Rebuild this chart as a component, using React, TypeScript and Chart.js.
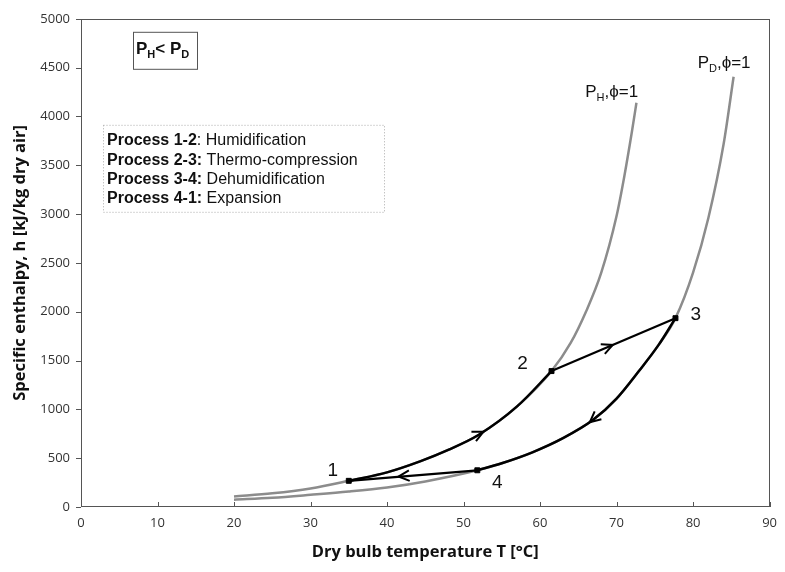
import React, { useEffect, useRef } from 'react';
import { Chart, registerables } from 'chart.js';

Chart.register(...registerables);

// Saturation curve at humidifier pressure P_H (phi = 1)
const phT = [20, 25, 30, 35, 40, 44.4, 48, 52, 57, 61.5, 64, 66, 68, 70, 71, 72, 72.6];
const phH = [108, 140, 190, 268, 355, 470, 585, 740, 1030, 1392, 1680, 2000, 2400, 2980, 3380, 3840, 4140];

// Saturation curve at dehumidifier pressure P_D (phi = 1)
const pdT = [20, 25, 30, 35, 40, 45, 51.8, 55, 59, 63, 66.9, 70, 72.9, 75.5, 77.7, 80, 82, 84, 85.3];
const pdH = [75, 95, 125, 158, 200, 262, 376, 448, 560, 705, 890, 1110, 1390, 1660, 1934, 2400, 2960, 3720, 4407];

// Process 1-2 (humidification, along P_H saturation)
const p12T = [35, 40, 44.4, 48, 52, 57, 61.5];
const p12H = [268, 355, 470, 585, 740, 1030, 1392];

// Process 3-4 (dehumidification, along P_D saturation)
const p34T = [51.8, 55, 59, 63, 66.9, 70, 72.9, 75.5, 77.7];
const p34H = [376, 448, 560, 705, 890, 1110, 1390, 1660, 1934];

// State points 1..4
const stateNames = ['1', '2', '3', '4'];
const stateT = [35, 61.5, 77.7, 51.8];
const stateH = [268, 1392, 1934, 376];
const stateLabelT = [32.9, 57.7, 80.35, 54.4];
const stateLabelH = [371, 1468, 1972, 244];

// Arrow tips and their trailing points
const arrowTipT = [52.6, 69.5, 66.5, 41.5];
const arrowTipH = [770, 1660, 868, 312];
const arrowBackT = [50.5, 61.5, 68.5, 51.8];
const arrowBackH = [690, 1392, 1000, 376];

const xTickValues = [0, 10, 20, 30, 40, 50, 60, 70, 80, 90];
const yTickValues = [0, 500, 1000, 1500, 2000, 2500, 3000, 3500, 4000, 4500, 5000];

const legendBold = ['Process 1-2', 'Process 2-3:', 'Process 3-4:', 'Process 4-1:'];
const legendText = [': Humidification', ' Thermo-compression', ' Dehumidification', ' Expansion'];

const GRAY = '#8c8c8c';
const SANS = '"Liberation Sans", Arial, sans-serif';

const pts = (t: number[], h: number[]) => t.map((v, i) => ({ x: v, y: h[i] }));

const annotPlugin = {
  id: 'annot',
  afterDatasetsDraw(chart: any) {
    const { ctx, chartArea: ca, scales } = chart;
    const xs = scales.x;
    const ys = scales.y;
    const px = (v: number) => xs.getPixelForValue(v);
    const py = (v: number) => ys.getPixelForValue(v);
    ctx.save();

    // frame
    ctx.strokeStyle = '#555';
    ctx.lineWidth = 1;
    ctx.strokeRect(Math.round(ca.left) + 0.5, Math.round(ca.top) + 0.5, Math.round(ca.right - ca.left) - 1, Math.round(ca.bottom - ca.top) - 1);
    // tick marks
    ctx.beginPath();
    xTickValues.forEach((v) => {
      const X = Math.round(px(v)) + 0.5;
      ctx.moveTo(X, ca.bottom);
      ctx.lineTo(X, ca.bottom - 5);
    });
    yTickValues.forEach((v) => {
      const Y = Math.round(py(v)) + 0.5;
      ctx.moveTo(ca.left - 5, Y);
      ctx.lineTo(ca.left, Y);
    });
    ctx.stroke();

    // arrows
    ctx.strokeStyle = '#000';
    ctx.lineWidth = 2;
    arrowTipT.forEach((t, i) => {
      const tx = px(t), ty = py(arrowTipH[i]);
      const bx = px(arrowBackT[i]), by = py(arrowBackH[i]);
      const ang = Math.atan2(ty - by, tx - bx);
      const L = 12, spread = 0.45;
      ctx.beginPath();
      ctx.moveTo(tx - L * Math.cos(ang - spread), ty - L * Math.sin(ang - spread));
      ctx.lineTo(tx, ty);
      ctx.lineTo(tx - L * Math.cos(ang + spread), ty - L * Math.sin(ang + spread));
      ctx.stroke();
    });

    // state labels
    ctx.fillStyle = '#111';
    ctx.font = `19px ${SANS}`;
    ctx.textAlign = 'center';
    ctx.textBaseline = 'middle';
    stateNames.forEach((n, i) => ctx.fillText(n, px(stateLabelT[i]), py(stateLabelH[i])));

    // curve labels
    ctx.textAlign = 'left';
    ctx.textBaseline = 'alphabetic';
    const subLabel = (main: string, sub: string, rest: string, x: number, y: number) => {
      ctx.font = `17px ${SANS}`;
      ctx.fillText(main, x, y);
      let cx = x + ctx.measureText(main).width;
      ctx.font = `11px ${SANS}`;
      ctx.fillText(sub, cx, y + 4);
      cx += ctx.measureText(sub).width;
      ctx.font = `17px ${SANS}`;
      ctx.fillText(rest, cx, y);
    };
    subLabel('P', 'H', ',\u03D5=1', px(65.9), py(4200));
    subLabel('P', 'D', ',\u03D5=1', px(80.6), py(4492));

    // P_H < P_D box
    const bl = ca.left + 52, bt = ca.top + 13;
    ctx.strokeStyle = '#555';
    ctx.lineWidth = 1;
    ctx.strokeRect(bl + 0.5, bt + 0.5, 64, 37);
    ctx.fillStyle = '#111';
    let cx = bl + 3;
    const by0 = bt + 22;
    const part = (txt: string, size: number, dy: number) => {
      ctx.font = `bold ${size}px ${SANS}`;
      ctx.fillText(txt, cx, by0 + dy);
      cx += ctx.measureText(txt).width;
    };
    part('P', 17, 0);
    part('H', 11, 4);
    part('< ', 17, 0);
    part('P', 17, 0);
    part('D', 11, 4);

    // legend box
    const ll = ca.left + 22, lt = ca.top + 106;
    ctx.strokeStyle = '#aaa';
    ctx.setLineDash([1, 2]);
    ctx.strokeRect(ll + 0.5, lt + 0.5, 281, 87);
    ctx.setLineDash([]);
    legendBold.forEach((b, i) => {
      const y = lt + 20.5 + i * 19.3;
      ctx.font = `bold 16px ${SANS}`;
      ctx.fillText(b, ll + 4, y);
      const w = ctx.measureText(b).width;
      ctx.font = `16px ${SANS}`;
      ctx.fillText(legendText[i], ll + 4 + w, y);
    });

    ctx.restore();
  },
};

export default function App() {
  const ref = useRef<HTMLCanvasElement>(null);
  useEffect(() => {
    document.body.style.margin = '0';
    const canvas = ref.current;
    if (!canvas) return;
    const chart = new Chart(canvas, {
      type: 'scatter',
      data: {
        datasets: [
          {
            data: pts(stateT, stateH),
            pointStyle: 'rect',
            pointRadius: 3.5,
            backgroundColor: '#000',
            borderColor: '#000',
            showLine: false,
          },
          {
            data: pts(p12T, p12H),
            showLine: true,
            borderColor: '#000',
            borderWidth: 2.5,
            pointRadius: 0,
            cubicInterpolationMode: 'monotone',
          },
          {
            data: pts(p34T, p34H),
            showLine: true,
            borderColor: '#000',
            borderWidth: 2.5,
            pointRadius: 0,
            cubicInterpolationMode: 'monotone',
          },
          {
            data: [
              { x: stateT[1], y: stateH[1] },
              { x: stateT[2], y: stateH[2] },
            ],
            showLine: true,
            borderColor: '#000',
            borderWidth: 2.2,
            pointRadius: 0,
          },
          {
            data: [
              { x: stateT[3], y: stateH[3] },
              { x: stateT[0], y: stateH[0] },
            ],
            showLine: true,
            borderColor: '#000',
            borderWidth: 2.2,
            pointRadius: 0,
          },
          {
            data: pts(phT, phH),
            showLine: true,
            borderColor: GRAY,
            borderWidth: 2.5,
            pointRadius: 0,
            cubicInterpolationMode: 'monotone',
          },
          {
            data: pts(pdT, pdH),
            showLine: true,
            borderColor: GRAY,
            borderWidth: 2.5,
            pointRadius: 0,
            cubicInterpolationMode: 'monotone',
          },
        ] as any,
      },
      options: {
        animation: false,
        responsive: false,
        devicePixelRatio: 1,
        layout: { padding: { top: 15, right: 10, left: 0, bottom: 0 } },
        plugins: { legend: { display: false }, tooltip: { enabled: false } },
        scales: {
          x: {
            type: 'linear',
            min: 0,
            max: 90,
            afterBuildTicks: (s: any) => {
              s.ticks = xTickValues.map((v) => ({ value: v }));
            },
            afterFit: (s: any) => {
              s.height = 65;
            },
            grid: { display: false, drawTicks: false },
            border: { display: false },
            ticks: {
              color: '#333',
              font: { family: '"Open Sans", sans-serif', size: 13 },
              padding: 8,
              maxRotation: 0,
              autoSkip: false,
              callback: (v: any) => String(v),
            },
            title: {
              display: true,
              text: 'Dry bulb temperature T [°C]',
              color: '#111',
              font: { family: '"Open Sans", sans-serif', size: 16.5, weight: 'bold' },
              padding: { top: 0, bottom: 10 },
            },
          },
          y: {
            type: 'linear',
            min: 0,
            max: 5000,
            afterBuildTicks: (s: any) => {
              s.ticks = yTickValues.map((v) => ({ value: v }));
            },
            afterFit: (s: any) => {
              s.width = 81;
            },
            grid: { display: false, drawTicks: false },
            border: { display: false },
            ticks: {
              color: '#333',
              font: { family: '"Open Sans", sans-serif', size: 13 },
              padding: 11,
              autoSkip: false,
              callback: (v: any) => String(v),
            },
            title: {
              display: true,
              text: 'Specific enthalpy, h [kJ/kg dry air]',
              color: '#111',
              font: { family: '"Open Sans", sans-serif', size: 16.5, weight: 'bold' },
              padding: { top: 10, bottom: 0 },
            },
          },
        },
      } as any,
      plugins: [annotPlugin],
    });
    return () => chart.destroy();
  }, []);
  return (
    <div style={{ position: 'relative', width: 785, height: 572 }}>
      <canvas ref={ref} width={785} height={572} style={{ display: 'block' }} />
    </div>
  );
}
